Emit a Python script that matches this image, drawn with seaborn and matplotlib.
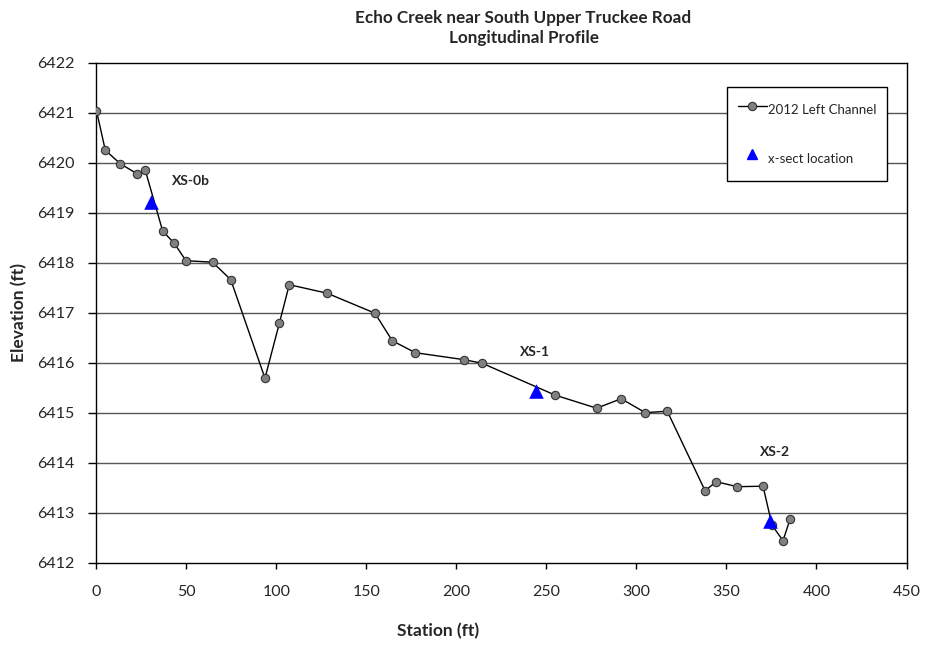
import matplotlib
matplotlib.use("Agg")
import matplotlib.pyplot as plt
import seaborn as sns
import pandas as pd
from matplotlib.lines import Line2D

station = [0, 4.9, 13.2, 22.5, 27.1, 36.8, 43.2, 49.7, 64.5, 74.6, 93.6, 101.6, 107.1,
           128.1, 154.7, 164.3, 177.1, 204.3, 214.2, 254.9, 277.9, 291.5, 304.9, 317.1,
           338.1, 344.3, 356.0, 370.3, 375.3, 381.4, 385.3]
elevation = [6421.04, 6420.25, 6419.98, 6419.78, 6419.85, 6418.63, 6418.39, 6418.04,
             6418.01, 6417.66, 6415.69, 6416.79, 6417.56, 6417.39, 6416.99, 6416.44,
             6416.20, 6416.06, 6415.99, 6415.35, 6415.09, 6415.28, 6415.00, 6415.03,
             6413.44, 6413.62, 6413.52, 6413.53, 6412.75, 6412.44, 6412.87]

xs_station = [30.3, 244.0, 374.2]
xs_elev = [6419.22, 6415.43, 6412.84]
xs_labels = ["XS-0b", "XS-1", "XS-2"]
xs_label_x = [52.5, 243.6, 376.8]
xs_label_y = [6419.63, 6416.21, 6414.21]

sns.set_style("white")
plt.rcParams['font.family'] = ['Lato', 'DejaVu Sans']

profile = pd.DataFrame({"Station": station, "Elevation": elevation})
xs = pd.DataFrame({"Station": xs_station, "Elevation": xs_elev})

fig = plt.figure(figsize=(9.25, 6.45), dpi=100)
ax = fig.add_axes([0.1043, 0.1276, 0.8757, 0.7752])

for yv in range(6413, 6422):
    ax.axhline(yv, color="#555555", lw=1.0, zorder=0)

sns.lineplot(data=profile, x="Station", y="Elevation", sort=False, ax=ax,
             color="black", lw=1.0, marker="o", markersize=6,
             markerfacecolor="#808080", markeredgecolor="#333333", markeredgewidth=0.8,
             zorder=3)
sns.scatterplot(data=xs, x="Station", y="Elevation", ax=ax, marker="^", s=110,
                color="#0000FF", edgecolor="#0000FF", linewidth=0, zorder=4)

for lx, ly, t in zip(xs_label_x, xs_label_y, xs_labels):
    ax.text(lx, ly, t, ha="center", va="center", fontsize=10, fontweight="bold")

ax.set_xlim(0, 450)
ax.set_ylim(6412, 6422)
ax.set_xticks(range(0, 451, 50))
ax.set_yticks(range(6412, 6423, 1))
ax.yaxis.set_major_formatter(matplotlib.ticker.FormatStrFormatter('%d'))
ax.tick_params(axis="both", labelsize=11.5, direction="out", width=1,
               bottom=True, left=True, color="black")
ax.tick_params(axis="y", length=6, pad=10)
ax.tick_params(axis="x", length=4, pad=12)
for s in ax.spines.values():
    s.set_color("black")
    s.set_linewidth(1.0)

ax.set_xlabel("Station (ft)", fontsize=12.5, fontweight="bold")
ax.set_ylabel("Elevation (ft)", fontsize=12.5, fontweight="bold")
ax.xaxis.set_label_coords(0.4216, -0.121)
ax.yaxis.set_label_coords(-0.085, 0.5)
fig.text(0.566, 0.972, "Echo Creek near South Upper Truckee Road", ha="center",
         va="center", fontsize=12.3, fontweight="bold")
fig.text(0.566, 0.941, "Longitudinal Profile", ha="center", va="center",
         fontsize=12.3, fontweight="bold")

handles = [
    Line2D([], [], color="black", lw=1.0, marker="o", markersize=6,
           markerfacecolor="#808080", markeredgecolor="#333333", markeredgewidth=0.8),
    Line2D([], [], color="#0000FF", lw=0, marker="^", markersize=7),
]
leg = ax.legend(handles, ["2012 Left Channel", "x-sect location"],
                loc="upper left", bbox_to_anchor=(0.7786, 0.951), fontsize=9.5,
                frameon=True, fancybox=False, edgecolor="black", framealpha=1,
                labelspacing=1.8, handlelength=2.2, handleheight=2.5,
                handletextpad=0.1, borderpad=0.8, borderaxespad=0)
leg.get_frame().set_linewidth(1.0)

fig.savefig("out.png", dpi=100)
